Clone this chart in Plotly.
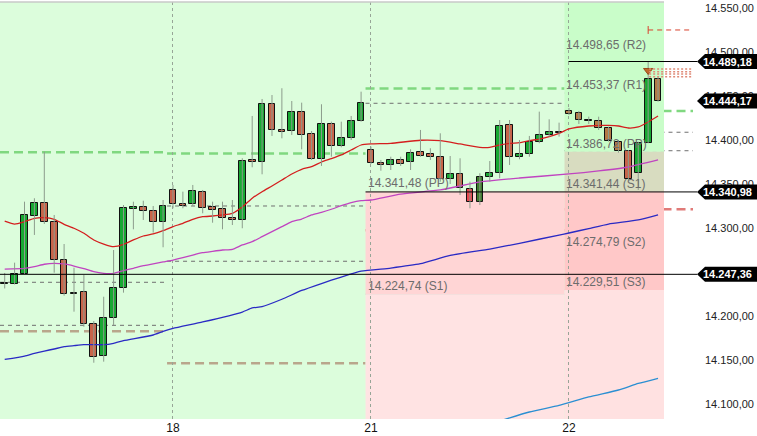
import plotly.graph_objects as go

# ---------------- data ----------------
bar_index = list(range(67))
opens = [14236.5, 14236.0, 14248.1, 14313.3, 14328.1, 14306.5, 14263.3, 14225.0, 14226.9, 14190.6,
         14154.2, 14197.4, 14231.5, 14322.2, 14323.5, 14319.0, 14306.5, 14342.8, 14326.5, 14326.9,
         14340.6, 14323.5, 14321.3, 14311.4, 14308.8, 14377.3, 14375.5, 14440.6, 14410.8, 14409.9,
         14432.2, 14406.5, 14378.1, 14417.8, 14393.2, 14402.3, 14421.9, 14388.3, 14373.9, 14371.3,
         14376.9, 14374.7, 14386.0, 14383.8, 14380.3, 14355.3, 14361.0, 14344.0, 14329.2, 14357.6,
         14362.2, 14417.1, 14380.3, 14383.8, 14397.4, 14405.3, 14408.5, 14432.6, 14430.3, 14422.7,
         14421.9, 14413.3, 14398.1, 14387.8, 14362.2, 14396.3, 14469.3]
highs = [14248.9, 14260.6, 14329.9, 14333.8, 14386.7, 14314.8, 14281.8, 14254.9, 14246.6, 14194.3,
         14221.9, 14275.0, 14326.1, 14329.9, 14331.0, 14325.0, 14331.8, 14348.9, 14341.3, 14348.9,
         14343.2, 14329.9, 14329.9, 14331.8, 14379.2, 14427.3, 14446.6, 14451.1, 14458.8, 14444.3,
         14442.4, 14410.2, 14440.6, 14420.8, 14420.8, 14427.3, 14454.9, 14392.4, 14377.3, 14381.0,
         14381.0, 14389.4, 14411.4, 14390.6, 14407.6, 14381.8, 14379.2, 14352.6, 14362.2, 14376.1,
         14422.7, 14422.7, 14400.0, 14404.6, 14432.2, 14423.5, 14419.7, 14436.4, 14433.0, 14426.5,
         14426.5, 14415.1, 14400.0, 14388.6, 14398.1, 14489.18, 14471.9]
lows = [14231.3, 14235.8, 14247.7, 14292.1, 14304.6, 14249.2, 14223.1, 14204.9, 14187.8, 14146.9,
        14148.1, 14189.8, 14226.5, 14298.5, 14309.1, 14294.7, 14278.1, 14322.4, 14322.4, 14325.0,
        14316.7, 14306.0, 14298.5, 14303.4, 14299.7, 14369.0, 14361.0, 14404.6, 14401.9, 14405.7,
        14389.4, 14377.3, 14370.5, 14381.0, 14391.7, 14400.0, 14420.8, 14372.7, 14365.1, 14365.9,
        14370.5, 14365.9, 14381.0, 14377.3, 14352.6, 14350.0, 14337.5, 14322.4, 14326.1, 14352.6,
        14356.5, 14371.6, 14378.1, 14381.0, 14396.3, 14403.8, 14403.8, 14428.4, 14418.2, 14418.2,
        14411.4, 14398.1, 14385.6, 14354.6, 14343.2, 14396.3, 14443.5]
closes = [14237.0, 14248.1, 14314.4, 14328.1, 14306.5, 14263.3, 14224.7, 14226.7, 14190.6, 14153.1,
          14197.4, 14231.5, 14322.4, 14323.3, 14319.0, 14306.5, 14324.7, 14326.9, 14325.8, 14341.7,
          14322.4, 14320.1, 14311.0, 14308.8, 14376.1, 14375.0, 14440.6, 14411.0, 14409.7, 14432.2,
          14405.3, 14378.1, 14417.8, 14393.2, 14401.9, 14421.9, 14441.7, 14373.9, 14371.3, 14376.9,
          14372.7, 14384.9, 14381.5, 14380.3, 14355.3, 14361.0, 14345.1, 14329.2, 14357.6, 14362.2,
          14415.9, 14380.3, 14383.8, 14397.4, 14405.3, 14408.8, 14408.0, 14429.9, 14422.7, 14422.4,
          14414.0, 14399.2, 14387.8, 14355.7, 14396.3, 14469.3, 14444.17]

red_ma_idx = list(range(0, 38)) + [39, 42, 44, 46, 48, 49, 50, 51, 52, 53, 54, 55, 56, 57, 59, 61, 62, 63, 64, 65, 66]
red_ma = [14307.9, 14304.5, 14307.2, 14311.0, 14311.7, 14309.9, 14304.2, 14299.7, 14294.0, 14286.4,
          14281.8, 14278.8, 14281.3, 14286.4, 14290.9, 14293.2, 14296.9, 14301.5, 14305.3, 14309.9,
          14312.8, 14313.6, 14314.8, 14316.7, 14323.9, 14333.8, 14341.2, 14347.7, 14354.5, 14361.4,
          14366.7, 14369.7, 14375.0, 14378.8, 14383.0, 14388.6, 14394.3, 14395.5,
          14396.2, 14399.7, 14399.2, 14395.5, 14391.7, 14391.7, 14394.3, 14396.2, 14396.9, 14399.2,
          14401.1, 14403.8, 14407.6, 14412.5, 14415.9, 14416.5, 14415.9, 14413.6, 14414.8, 14420.5, 14427.3]

mag_ma_idx = [0] + list(range(2, 38)) + [40, 44, 48, 52, 57, 60, 63, 66]
mag_ma = [14253.2, 14254.2, 14256.0, 14258.8, 14259.9, 14259.1, 14256.8, 14253.8, 14250.3, 14248.5,
          14248.5, 14251.5, 14254.2, 14257.2, 14259.1, 14261.4, 14263.6, 14266.3, 14269.3, 14271.9,
          14273.5, 14275.0, 14275.8, 14280.7, 14284.4, 14290.1, 14295.8, 14301.5, 14307.2, 14310.2,
          14314.8, 14317.8, 14321.3, 14325.3, 14328.8, 14331.0, 14331.8,
          14338.6, 14343.2, 14352.3, 14356.8, 14361.4, 14364.8, 14369.3, 14377.3]

blue_ma_idx = [0, 2, 3, 4, 5, 6, 7, 8, 9, 10, 11, 12, 15, 16, 17, 20, 24, 25, 26, 28, 30, 32, 34, 36,
               39, 42, 45, 49, 52, 56, 57, 59, 61, 64, 66]
blue_ma = [14150.6, 14154.5, 14157.6, 14160.2, 14162.5, 14165.1, 14166.3, 14167.4, 14167.4, 14167.4,
           14169.0, 14171.9, 14178.4, 14182.4, 14185.8, 14193.2, 14204.5, 14209.1, 14210.6, 14219.0,
           14229.0, 14236.9, 14244.3, 14250.9, 14254.5, 14259.4, 14268.8, 14276.1, 14282.6, 14292.0,
           14294.3, 14299.4, 14304.5, 14309.1, 14314.8]

lblue_ma_idx = [50, 53, 56, 59, 62, 64, 66]
lblue_ma = [14080.7, 14090.9, 14098.3, 14108.0, 14115.9, 14123.3, 14129.2]

day_tick_idx = [17, 37, 57]
day_tick_text = ["18", "21", "22"]

y_tick_vals = [14100, 14150, 14200, 14250, 14300, 14350, 14400, 14450, 14500, 14550]
y_tick_text = ["14.100,00", "14.150,00", "14.200,00", "14.250,00", "14.300,00",
               "14.350,00", "14.400,00", "14.450,00", "14.500,00", "14.550,00"]

# pivot levels
day21_levels = {"PP": 14341.48, "S1": 14224.74}
day22_levels = {"R2": 14498.65, "R1": 14453.37, "PP": 14386.72, "S1": 14341.44, "S2": 14274.79, "S3": 14229.51}

# price marker labels
price_marks = [14489.18, 14444.17, 14340.98, 14247.36]

# previous-session level lines: (value, segment)
green_levels = [(14386.0, "A"), (14384.7, "B"), (14458.5, "C"), (14433.0, "D")]
gray_levels = [(14238.3, "A"), (14189.4, "A"), (14325.0, "B"), (14262.2, "B"),
               (14441.7, "C"), (14408.8, "D"), (14387.8, "D")]
brown_levels = [(14182.6, "A"), (14146.3, "B")]
red_levels = [(14297.4, "C"), (14321.3, "D")]
order_lines = [14480.7, 14477.6, 14475.0, 14472.0]
target_level = 14525.0

# ---------------- layout helpers ----------------
XR = [-0.475, 66.6]
YR = [14082.95, 14556.8]
DAY21_START = 36.45
DAY22_START = 56.55
PLOT_W = 664.0


def px(i):
    return (i - XR[0]) / (XR[1] - XR[0])


def ppx(pixel):
    return pixel / PLOT_W


SEG = {"A": (0.0, px(16.4)), "B": (px(16.4), px(DAY21_START)),
       "C": (px(DAY21_START), px(DAY22_START)), "D": (px(DAY22_START), ppx(693))}

fig = go.Figure()
shapes = []
annotations = []


def rect(x0, x1, y0, y1, color, layer="below"):
    shapes.append(dict(type="rect", xref="x", yref="y", x0=x0, x1=x1, y0=y0, y1=y1,
                       fillcolor=color, line=dict(width=0), layer=layer))


rect(DAY21_START, DAY22_START, day21_levels["S1"], day21_levels["PP"], "#ffd5d5")
rect(DAY21_START, DAY22_START, YR[0] - 50, day21_levels["S1"], "#ffe3e3")
rect(DAY22_START, XR[1] + 1, day22_levels["PP"], YR[1] + 50, "#c9fdc9")
rect(DAY22_START, XR[1] + 1, day22_levels["S1"], day22_levels["PP"], "#d8dcc0")
rect(DAY22_START, XR[1] + 1, day22_levels["S3"], day22_levels["S1"], "#ffc8c8")
rect(DAY22_START, XR[1] + 1, YR[0] - 50, day22_levels["S3"], "#ffe1e1")


def hline(val, x0, x1, color, width, dash=None, layer="between"):
    ln = dict(color=color, width=width)
    if dash:
        ln["dash"] = dash
    shapes.append(dict(type="line", xref="paper", yref="y", x0=x0, x1=x1, y0=val, y1=val,
                       line=ln, layer=layer))


hline(day21_levels["S1"], px(DAY21_START), px(DAY22_START), "#bdbdbd", 1)
for k in ["R2", "R1", "S2", "S3"]:
    hline(day22_levels[k], px(DAY22_START), 1.0, "#bdbdbd", 1)

for v, s in green_levels:
    hline(v, SEG[s][0], SEG[s][1], "#80d880", 2.5, "9px,5px")
for v, s in brown_levels:
    hline(v, SEG[s][0], SEG[s][1], "#b9a68c", 2.5, "9px,5px")
for v, s in red_levels:
    hline(v, SEG[s][0], SEG[s][1], "#e07a78", 2.5, "9px,5px")
for v, s in gray_levels:
    hline(v, SEG[s][0], SEG[s][1], "#6f6f6f", 1, "4px,4px")
for v in order_lines:
    hline(v, px(65.1), ppx(693), "#e08a78", 1.5, "2px,2px", layer="above")
hline(target_level, px(65), ppx(693), "#d8402c", 1, "5px,4px", layer="above")
shapes.append(dict(type="line", xref="paper", yref="y", x0=px(65), x1=px(65),
                   y0=target_level - 4.5, y1=target_level + 4.5,
                   line=dict(color="#d8402c", width=1), layer="above"))

hline(price_marks[3], 0, ppx(697), "#000000", 1, layer="above")
hline(price_marks[2], px(DAY21_START), ppx(697), "#000000", 1, layer="above")
hline(price_marks[0], px(56.95), ppx(697), "#000000", 1, layer="above")

shapes.append(dict(type="line", xref="paper", yref="paper", x0=0, x1=1, y0=1, y1=1,
                   line=dict(color="#c8c8c8", width=1.5), layer="above"))


def fmt(v):
    return f"{v:,.2f}".replace(",", "X").replace(".", ",").replace("X", ".")


half = 7.5 / 0.88
for v in price_marks:
    xt, xb, xe = ppx(697), ppx(705), ppx(757)
    path = (f"M {xt},{v} L {xb},{v + half} L {xe},{v + half} "
            f"L {xe},{v - half} L {xb},{v - half} Z")
    shapes.append(dict(type="path", xref="paper", yref="y", path=path,
                       fillcolor="#000000", line=dict(width=0), layer="above"))
    annotations.append(dict(xref="paper", yref="y", x=ppx(754), y=v, text=f"<b>{fmt(v)}</b>",
                            showarrow=False, xanchor="right", yanchor="middle",
                            font=dict(family="Liberation Sans, Arial", size=11, color="white")))

for name, v in day21_levels.items():
    annotations.append(dict(xref="x", yref="y", x=DAY21_START + 0.05, y=v, text=f"{fmt(v)} ({name})",
                            showarrow=False, xanchor="left", yanchor="bottom", yshift=-1,
                            font=dict(family="Liberation Sans, Arial", size=12, color="#6c6c6c")))
for name, v in day22_levels.items():
    annotations.append(dict(xref="x", yref="y", x=DAY22_START - 0.05, y=v, text=f"{fmt(v)} ({name})",
                            showarrow=False, xanchor="left", yanchor="bottom", yshift=-1,
                            font=dict(family="Liberation Sans, Arial", size=12, color="#6c6c6c")))

for idx, vals, col in [(lblue_ma_idx, lblue_ma, "#2b8fd2"), (blue_ma_idx, blue_ma, "#2a2ac4"),
                       (mag_ma_idx, mag_ma, "#c044c0"), (red_ma_idx, red_ma, "#d41e1e")]:
    fig.add_trace(go.Scatter(x=idx, y=vals, mode="lines",
                             line=dict(color=col, width=1.3, shape="spline", smoothing=0.5),
                             hoverinfo="skip", showlegend=False))

wx, wy = [], []
for i, h, l in zip(bar_index, highs, lows):
    wx += [i, i, None]
    wy += [l, h, None]
fig.add_trace(go.Scatter(x=wx, y=wy, mode="lines", line=dict(color="#8c9c8c", width=1),
                         hoverinfo="skip", showlegend=False))

GREEN, RED, BROWN = "#17a832", "#c8644a", "#b47a46"
special = {47: "#e6464e", 48: "#3e7a2c"}
colors, bases, heights = [], [], []
for i, o, c in zip(bar_index, opens, closes):
    up = c >= o
    col = GREEN if up else RED
    if not up and i >= 57 and i != 63:
        col = BROWN
    col = special.get(i, col)
    colors.append(col)
    lo = min(o, c)
    hgt = abs(c - o)
    if hgt < 1.2:
        lo = (o + c) / 2 - 0.6
        hgt = 1.2
    bases.append(lo)
    heights.append(hgt)
fig.add_trace(go.Bar(x=bar_index, y=heights, base=bases, width=0.68,
                     marker=dict(color=colors, line=dict(color="#111111", width=1)),
                     hoverinfo="skip", showlegend=False))

fig.add_trace(go.Scatter(x=[65], y=[14479.0], mode="markers",
                         marker=dict(symbol="triangle-down", size=8, color="#c06a2c",
                                     line=dict(color="#9a4a1a", width=1)),
                         hoverinfo="skip", showlegend=False))

fig.update_layout(
    width=757, height=436,
    margin=dict(l=0, r=93, t=2, b=17),
    paper_bgcolor="white", plot_bgcolor="#dcfddc",
    shapes=shapes, annotations=annotations,
    bargap=0, showlegend=False, hovermode=False,
    font=dict(family="Liberation Sans, Arial", size=12, color="#111111"),
    xaxis=dict(range=XR, tickvals=day_tick_idx, ticktext=day_tick_text, showgrid=True,
               griddash="dot", gridcolor="#97a597", gridwidth=1, zeroline=False, showline=False,
               ticks="", tickfont=dict(size=12, color="#111111")),
    yaxis=dict(range=YR, side="right", tickvals=y_tick_vals, ticktext=y_tick_text,
               showgrid=False, zeroline=False, showline=False, ticks="",
               ticklabelstandoff=40, tickfont=dict(size=11, color="#222222")),
)

fig.write_html("out.html", config={"displayModeBar": False},
               post_script="document.body.style.margin='0';document.body.style.overflow='hidden';")
